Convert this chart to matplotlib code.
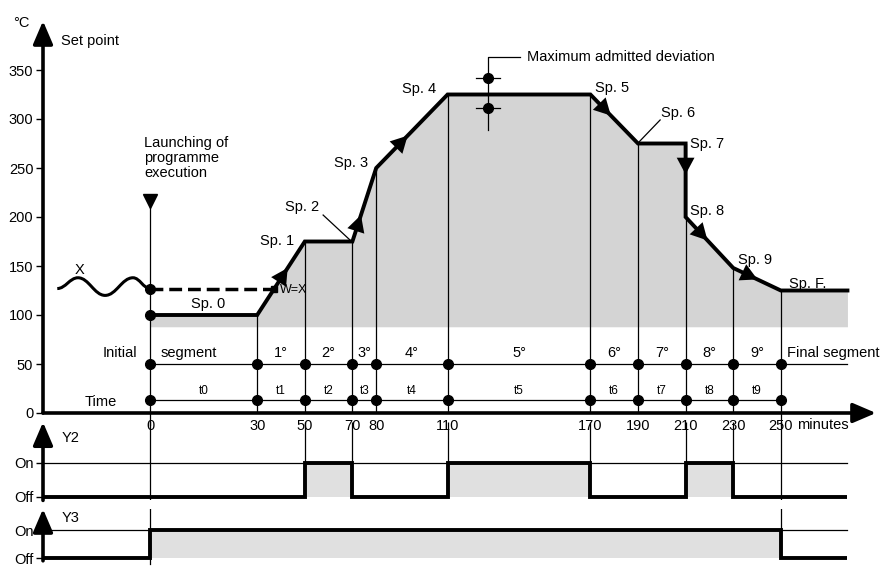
import numpy as np
import matplotlib
matplotlib.use('Agg')
import matplotlib.pyplot as plt
from matplotlib.path import Path
from matplotlib.patches import PathPatch

plt.rcParams['font.family'] = ['Liberation Sans', 'DejaVu Sans']

# ---------------- data ----------------
segment_bounds = [0, 30, 50, 70, 80, 110, 170, 190, 210, 230, 250]
profile_x = [0, 30, 50, 70, 80, 110, 170, 190, 210, 210, 230, 250, 278]
profile_y = [100, 100, 175, 175, 250, 325, 325, 275, 275, 200, 148, 125, 125]

sp_labels = ['Sp. 0', 'Sp. 1', 'Sp. 2', 'Sp. 3', 'Sp. 4', 'Sp. 5', 'Sp. 6',
             'Sp. 7', 'Sp. 8', 'Sp. 9', 'Sp. F.']
sp_label_x = [16.3, 38.4, 48.9, 69.5, 98, 179, 207, 219, 219, 239, 261.5]
sp_label_y = [111, 176, 210, 255, 331, 332, 306, 274, 206, 156, 132]

wave_x = [-26, -20.2, -12.6, -4.8, 0]
wave_y = [127, 138, 120, 138, 127]
measured_value = 127
measured_meets_x = 37.2

segment_labels = ['1°', '2°', '3°', '4°', '5°', '6°', '7°', '8°', '9°']
time_labels = ['t0', 't1', 't2', 't3', 't4', 't5', 't6', 't7', 't8', 't9']
segment_row_y = 50
time_row_y = 13

y_ticks = [0, 50, 100, 150, 200, 250, 300, 350]
x_ticks = segment_bounds

y2_edges = [-30, 50, 70, 110, 170, 210, 230, 278]
y2_states = [0, 1, 0, 1, 0, 1, 0]
y3_edges = [-30, 0, 250, 278]
y3_states = [0, 1, 0]

deviation_x = 127
deviation_points = [342, 311.5]

arrow_segments = [1, 3, 4, 6, 8, 9, 10]
arrow_fracs = [0.58, 0.3, 0.38, 0.37, 0.36, 0.4, 0.45]

launch_marker_y = 216

# ---------------- scale (time axis is stretched before 30 min) ----------------
def fwd(x):
    x = np.asarray(x, dtype=float)
    return np.where(x < 30, 1.5 * x, x + 15)

def inv(v):
    v = np.asarray(v, dtype=float)
    return np.where(v < 45, v / 1.5, v - 15)

def mid(a, b):
    return float(inv((fwd(a) + fwd(b)) / 2))

W, H = 886, 566
fig = plt.figure(figsize=(W / 100, H / 100), dpi=100)

def pos(left_px, right_px, top_px, bottom_px):
    return [left_px / W, 1 - bottom_px / H, (right_px - left_px) / W, (bottom_px - top_px) / H]

ax = fig.add_axes(pos(43, 876, 21, 413))
ax2 = fig.add_axes(pos(43, 876, 422.2, 500.4), sharex=ax)
ax3 = fig.add_axes(pos(43, 876, 509, 558), sharex=ax)

for a in (ax, ax2, ax3):
    a.set_xscale('function', functions=(fwd, inv))
    for s in a.spines.values():
        s.set_visible(False)
    a.patch.set_alpha(0)

ax.set_xlim(-30, 290)
ax.set_ylim(0, 400)
ax2.set_ylim(-0.1, 2.2)
ax3.set_ylim(0, 1.75)

FS = 10.5
BLACK = 'black'
SHADE = '#d4d4d4'
SHADE2 = '#e0e0e0'

# ---------------- main axes ----------------
ax.set_yticks(y_ticks)
ax.set_yticklabels([str(v) for v in y_ticks], fontsize=FS)
ax.tick_params(axis='y', direction='out', length=5, width=1, pad=2)
ax.set_xticks(x_ticks)
ax.set_xticklabels([str(v) for v in x_ticks], fontsize=FS)
ax.tick_params(axis='x', length=0, pad=4)
ax.text(257, -12, 'minutes', fontsize=FS, va='center', ha='left', clip_on=False)

# axis arrows
arrow_kw = dict(arrowstyle='-|>,head_length=0.7,head_width=0.3', lw=2.6,
                color=BLACK, shrinkA=0, shrinkB=0, mutation_scale=20)
ax.annotate('', xy=(-30, 400), xytext=(-30, 0), arrowprops=arrow_kw, annotation_clip=False)
ax.annotate('', xy=(290, 0), xytext=(-30, 0), arrowprops=arrow_kw, annotation_clip=False)
ax.text(-36, 398, '°C', fontsize=FS, ha='center', va='center', clip_on=False)
ax.text(-25, 380, 'Set point', fontsize=FS, ha='left', va='center')

# shading under profile
ax.fill_between(profile_x, 88, profile_y, color=SHADE, lw=0, zorder=1)

# vertical boundary lines
for b in segment_bounds[1:-1]:
    top = max(py for px_, py in zip(profile_x, profile_y) if px_ == b) if b in profile_x else None
    if top is None:
        top = float(np.interp(b, profile_x, profile_y))
    ax.plot([b, b], [0, top], color=BLACK, lw=0.9, zorder=2)
ax.plot([0, 0], [-12, launch_marker_y], color=BLACK, lw=0.9, zorder=2, clip_on=False)
ax.plot([250, 250], [-12, 125], color=BLACK, lw=0.9, zorder=2, clip_on=False)

# rows
ax.plot([0, 278], [segment_row_y] * 2, color=BLACK, lw=0.9, zorder=2)
ax.plot([0, 250], [time_row_y] * 2, color=BLACK, lw=0.9, zorder=2)
ax.plot(segment_bounds, [segment_row_y] * len(segment_bounds), 'o', color=BLACK, ms=7, zorder=4)
ax.plot(segment_bounds, [time_row_y] * len(segment_bounds), 'o', color=BLACK, ms=7, zorder=4)
for i, lab in enumerate(segment_labels):
    ax.text(mid(segment_bounds[i + 1], segment_bounds[i + 2]), 61, lab, fontsize=FS, ha='center', va='center')
for i, lab in enumerate(time_labels):
    ax.text(mid(segment_bounds[i], segment_bounds[i + 1]), 22, lab, fontsize=8.5, ha='center', va='center')
ax.text(-3.5, 61, 'Initial', fontsize=FS, ha='right', va='center')
ax.text(3, 61, 'segment', fontsize=FS, ha='left', va='center')
ax.text(252.6, 61, 'Final segment', fontsize=FS, ha='left', va='center')
ax.text(-13.7, 11, 'Time', fontsize=FS, ha='center', va='center')

# setpoint profile
ax.plot(profile_x, profile_y, color=BLACK, lw=2.8, solid_joinstyle='miter', zorder=5)
ax.plot([0, 0], [profile_y[0], measured_value], 'o', color=BLACK, ms=7, zorder=6)

# profile arrows
for seg, t in zip(arrow_segments, arrow_fracs):
    x0, y0 = profile_x[seg], profile_y[seg]
    x1, y1 = profile_x[seg + 1], profile_y[seg + 1]
    f0, f1 = float(fwd(x0)), float(fwd(x1))
    ft, fh = f0 + (f1 - f0) * (t - 0.02), f0 + (f1 - f0) * (t + 0.06)
    tail = (float(inv(ft)), y0 + (y1 - y0) * (t - 0.02))
    head = (float(inv(fh)), y0 + (y1 - y0) * (t + 0.06))
    ax.annotate('', xy=head, xytext=tail,
                arrowprops=dict(arrowstyle='-|>,head_length=0.6,head_width=0.32',
                                lw=0, color=BLACK, shrinkA=0, shrinkB=0, mutation_scale=20),
                zorder=7)

for lab, x, y in zip(sp_labels, sp_label_x, sp_label_y):
    ax.text(x, y, lab, fontsize=FS, ha='center', va='center', zorder=8)
ax.plot([57.7, 69], [202, 176.5], color=BLACK, lw=0.9)
ax.plot([199.3, 190], [299, 275.5], color=BLACK, lw=0.9)

# measured value X
verts = [(wave_x[0], wave_y[0])]
codes = [Path.MOVETO]
for i in range(len(wave_x) - 1):
    dx = wave_x[i + 1] - wave_x[i]
    verts += [(wave_x[i] + 0.4 * dx, wave_y[i]), (wave_x[i + 1] - 0.4 * dx, wave_y[i + 1]),
              (wave_x[i + 1], wave_y[i + 1])]
    codes += [Path.CURVE4] * 3
ax.add_patch(PathPatch(Path(verts, codes), fill=False, lw=2.2, color=BLACK, zorder=5))
ax.text(-19.9, 146, 'X', fontsize=FS, ha='center', va='center')
ax.plot([0, measured_meets_x], [measured_value] * 2, color=BLACK, lw=2.5,
        dashes=(3.7, 1.7), zorder=5)
ax.plot([measured_meets_x], [measured_value], 's', color=BLACK, ms=4.5, zorder=6)
ax.text(39.5, 126, 'W=X', fontsize=9, ha='left', va='center', zorder=8)

# launch marker
ax.plot([0], [launch_marker_y], 'v', color=BLACK, ms=10, zorder=6)
ax.text(-1.7, 283, 'Launching of\nprogramme\nexecution', fontsize=FS, ha='left', va='top',
        linespacing=1.1)

# maximum admitted deviation
ax.plot([deviation_x, deviation_x, 140.5], [289, 363.5, 363.5], color=BLACK, lw=0.9, zorder=6)
for dv in deviation_points:
    ax.plot([deviation_x - 5, deviation_x + 5], [dv, dv], color=BLACK, lw=0.9, zorder=6)
ax.plot([deviation_x] * len(deviation_points), deviation_points, 'o', color=BLACK, ms=7, zorder=7)
ax.text(143.5, 363.5, 'Maximum admitted deviation', fontsize=FS, ha='left', va='center')

# ---------------- Y2 / Y3 ----------------
sub_arrow = dict(arrowstyle='-|>,head_length=0.7,head_width=0.3', lw=2.6,
                 color=BLACK, shrinkA=0, shrinkB=0, mutation_scale=20)
for a, edges, states, top, lab, laby in ((ax2, y2_edges, y2_states, 2.2, 'Y2', 1.74),
                                          (ax3, y3_edges, y3_states, 1.75, 'Y3', 1.42)):
    a.set_yticks([0, 1])
    a.set_yticklabels(['Off', 'On'], fontsize=FS)
    a.tick_params(axis='y', direction='out', length=5, width=1, pad=2)
    a.tick_params(axis='x', length=0, labelbottom=False)
    a.plot([-30, 278], [1, 1], color=BLACK, lw=0.9, zorder=2)
    a.stairs(states, edges, baseline=0, fill=True, color=SHADE2, lw=0, zorder=1)
    a.stairs(states, edges, baseline=None, color=BLACK, lw=2.8, zorder=5, clip_on=False)
    a.annotate('', xy=(-30, top), xytext=(-30, -0.1 if a is ax2 else -0.1), arrowprops=sub_arrow,
               annotation_clip=False)
    a.text(-24.7, laby, lab, fontsize=FS, ha='left', va='center')
    a.axvline(0, color=BLACK, lw=0.9, zorder=2)
    a.axvline(250, color=BLACK, lw=0.9, zorder=2)

ax2.vlines([50, 70, 110, 170, 210, 230], 1, 2.2, color=BLACK, lw=0.9, zorder=2)
ax3.plot([0, 0], [0, -0.2], color=BLACK, lw=0.9, clip_on=False)

fig.savefig('out.png', dpi=100)
